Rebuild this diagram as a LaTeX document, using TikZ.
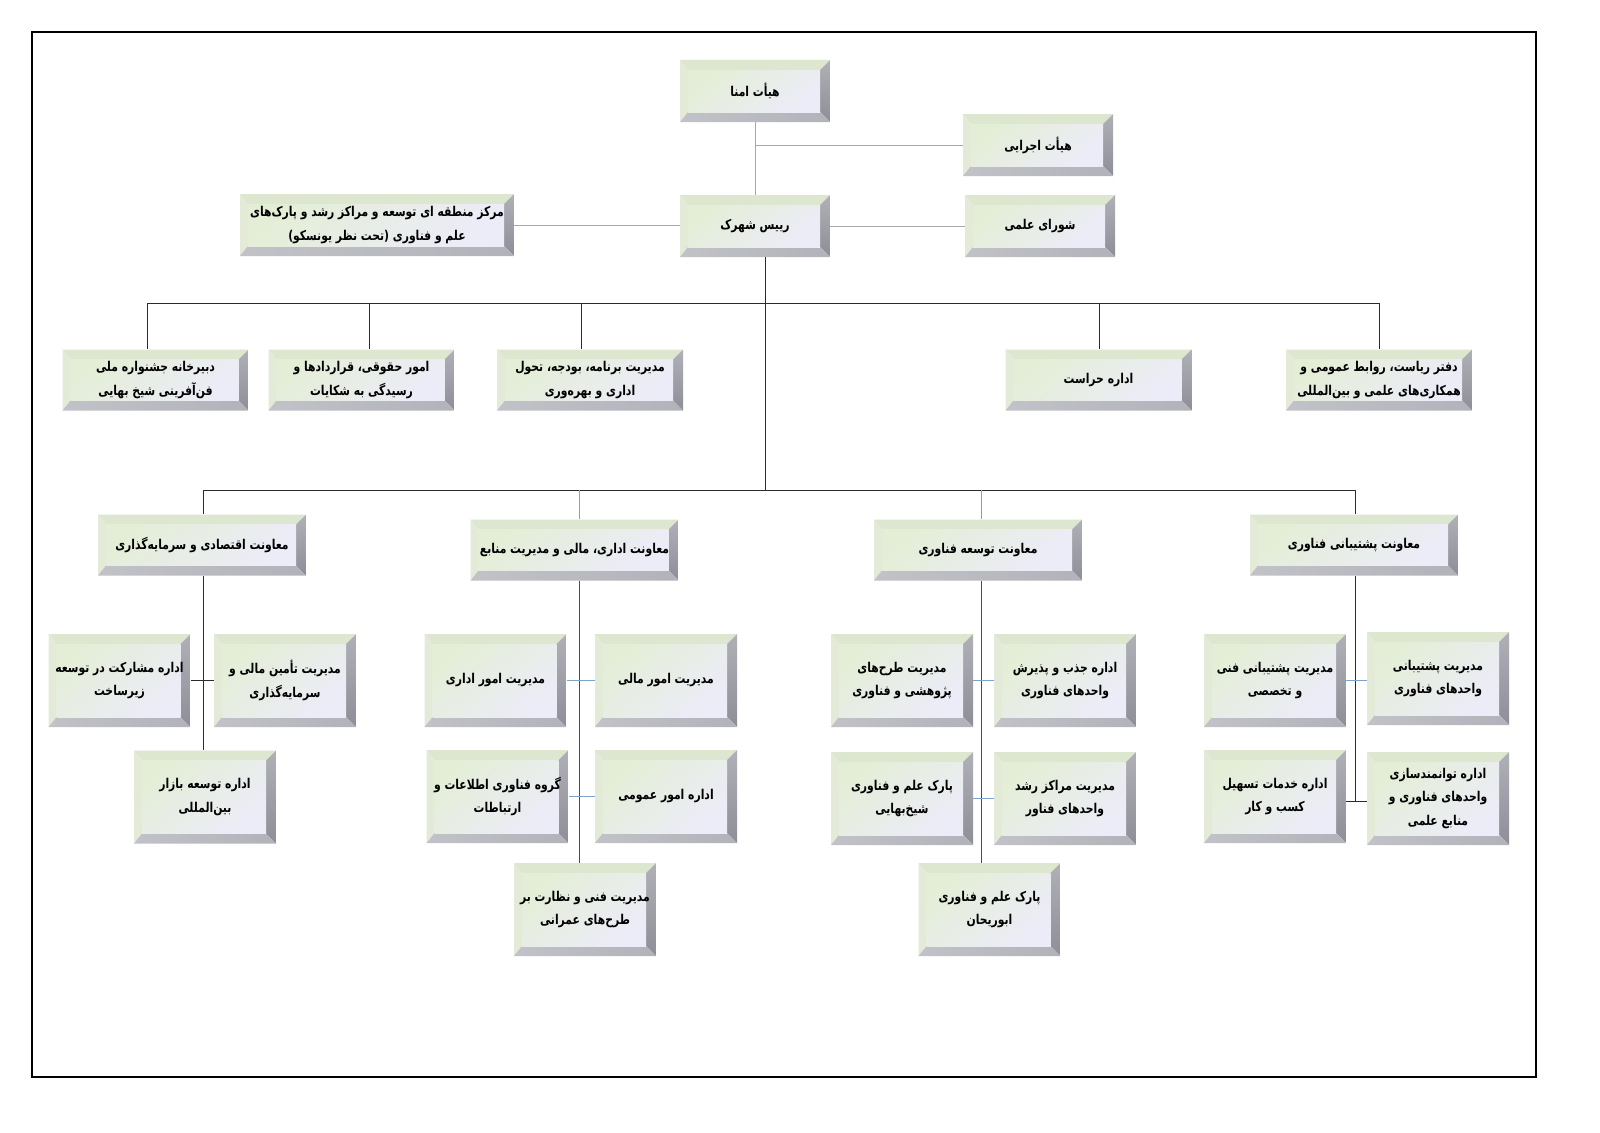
\documentclass[tikz,border=0pt]{standalone}
\usepackage{fontspec}
\newfontfamily\arabicfont[Script=Arabic,FakeStretch=0.8]{DejaVu Sans}
\TeXXeTstate=1
\usetikzlibrary{calc}
\newcommand\fa[1]{\beginR #1\endR}
\definecolor{bvtop}{HTML}{DDE7D0}
\definecolor{bvleft}{HTML}{E3EAD8}
\definecolor{bvright}{HTML}{8E8E98}
\definecolor{bvbot}{HTML}{B2B2BA}
\definecolor{facetop}{HTML}{E4EED7}
\definecolor{facebot}{HTML}{ECECF8}
\definecolor{lnblue}{HTML}{7DA3CC}
\definecolor{lngray}{HTML}{A8A8A8}
\definecolor{lndark}{HTML}{2B2B2B}
\newcommand\bevel{%
 \fill[bvtop] let \p1=(path picture bounding box.north west),\p2=(path picture bounding box.south east) in
   (\x1,\y1) -- (\x2,\y1) -- ({\x2-10pt},{\y1-10pt}) -- ({\x1+8pt},{\y1-10pt}) -- cycle;
 \fill[bvleft] let \p1=(path picture bounding box.north west),\p2=(path picture bounding box.south east) in
   (\x1,\y1) -- ({\x1+8pt},{\y1-10pt}) -- ({\x1+8pt},{\y2+10pt}) -- (\x1,\y2) -- cycle;
 \shade[top color=bvright!70!white, bottom color=bvright] let \p1=(path picture bounding box.north west),\p2=(path picture bounding box.south east) in
   (\x2,\y1) -- (\x2,\y2) -- ({\x2-10pt},{\y2+10pt}) -- ({\x2-10pt},{\y1-10pt}) -- cycle;
 \shade[left color=bvbot!80!white, right color=bvbot] let \p1=(path picture bounding box.north west),\p2=(path picture bounding box.south east) in
   (\x1,\y2) -- (\x2,\y2) -- ({\x2-10pt},{\y2+10pt}) -- ({\x1+8pt},{\y2+10pt}) -- cycle;
 \shade[top color=facetop, middle color=white, bottom color=facebot, shading angle=40]
   let \p1=(path picture bounding box.north west),\p2=(path picture bounding box.south east) in
   ({\x1+8pt},{\y1-10pt}) rectangle ({\x2-10pt},{\y2+10pt});
}
\tikzset{
 bx/.style={inner sep=0pt, align=center, text=black,
   font=\arabicfont\bfseries\fontsize{13.5}{23.5}\selectfont, path picture={\bevel}},
 wtop/.style={bx, minimum width=150pt, minimum height=62pt},
 wmark/.style={bx, minimum width=274pt, minimum height=62pt},
 wrow/.style={bx, minimum width=186pt, minimum height=61pt},
 wmoa/.style={bx, minimum width=208pt, minimum height=61pt},
 wsub/.style={bx, minimum width=142pt, minimum height=93pt},
 gl/.style={draw=lngray, line width=0.9pt},
 dl/.style={draw=lndark, line width=1pt},
 bl/.style={draw=lnblue, line width=1pt},
 ml/.style={draw=black!70, line width=1pt},
}
\begin{document}
\begin{tikzpicture}[x=1pt,y=-1pt]
\useasboundingbox (0,0) rectangle (1600,1132);
\fill[white] (0,0) rectangle (1600,1132);
\draw[black, line width=1.8pt] (32,32) rectangle (1536,1077);

% top level
\node[wtop] (amna) at (755,91) {\fa{هیأت امنا}};
\node[wtop] (ejraei) at (1038,145) {\fa{هیأت اجرایی}};
\node[wtop] (rayis) at (755,226) {\fa{رییس شهرک}};
\node[wtop] (shora) at (1040,226) {\fa{شورای علمی}};
\node[wmark] (markaz) at (377,225) {\fa{مرکز منطقه ای توسعه و مراکز رشد و پارک^^^^200cهای}\\\fa{علم و فناوری (تحت نظر یونسکو)}};

% row 2
\node[wrow] (dabir) at (155.5,380) {\fa{دبیرخانه جشنواره ملی}\\\fa{فن^^^^200cآفرینی شیخ بهایی}};
\node[wrow] (hoquq) at (361.5,380) {\fa{امور حقوقی، قراردادها و}\\\fa{رسیدگی به شکایات}};
\node[wrow] (barname) at (590,380) {\fa{مدیریت برنامه، بودجه، تحول}\\\fa{اداری و بهره^^^^200cوری}};
\node[wrow] (herasat) at (1098.5,380) {\fa{اداره حراست}};
\node[wrow] (daftar) at (1379,380) {\fa{دفتر ریاست، روابط عمومی و}\\\fa{همکاری^^^^200cهای علمی و بین^^^^200cالمللی}};

% row 3
\node[wmoa] (eqt) at (202,545) {\fa{معاونت اقتصادی و سرمایه^^^^200cگذاری}};
\node[wmoa] (edari) at (574.5,550) {\fa{معاونت اداری، مالی و مدیریت منابع}};
\node[wmoa] (tose) at (978,550) {\fa{معاونت توسعه فناوری}};
\node[wmoa] (posht) at (1354,545) {\fa{معاونت پشتیبانی فناوری}};

% group 1
\node[wsub] (gA1) at (119.5,680.5) {\fa{اداره مشارکت در توسعه}\\\fa{زیرساخت}};
\node[wsub] (gA2) at (285,680.5) {\fa{مدیریت تأمین مالی و}\\\fa{سرمایه^^^^200cگذاری}};
\node[wsub] (gA3) at (205,797) {\fa{اداره توسعه بازار}\\\fa{بین^^^^200cالمللی}};

% group 2
\node[wsub] (gB1) at (495.5,680.5) {\fa{مدیریت امور اداری}};
\node[wsub] (gB2) at (666,680.5) {\fa{مدیریت امور مالی}};
\node[wsub] (gB3) at (497.5,796.5) {\fa{گروه فناوری اطلاعات و}\\\fa{ارتباطات}};
\node[wsub] (gB4) at (666,796.5) {\fa{اداره امور عمومی}};
\node[wsub] (gB5) at (585,909.5) {\fa{مدیریت فنی و نظارت بر}\\\fa{طرح^^^^200cهای عمرانی}};

% group 3
\node[wsub] (gC1) at (902,680.5) {\fa{مدیریت طرح^^^^200cهای}\\\fa{پژوهشی و فناوری}};
\node[wsub] (gC2) at (1065,680.5) {\fa{اداره جذب و پذیرش}\\\fa{واحدهای فناوری}};
\node[wsub] (gC3) at (902,798.5) {\fa{پارک علم و فناوری}\\\fa{شیخ^^^^200cبهایی}};
\node[wsub] (gC4) at (1065,798.5) {\fa{مدیریت مراکز رشد}\\\fa{واحدهای فناور}};
\node[wsub] (gC5) at (989.5,909.5) {\fa{پارک علم و فناوری}\\\fa{ابوریحان}};

% group 4
\node[wsub] (gD1) at (1275,680.5) {\fa{مدیریت پشتیبانی فنی}\\\fa{و تخصصی}};
\node[wsub] (gD2) at (1438,678.5) {\fa{مدیریت پشتیبانی}\\\fa{واحدهای فناوری}};
\node[wsub] (gD3) at (1275,796.5) {\fa{اداره خدمات تسهیل}\\\fa{کسب و کار}};
\node[wsub] (gD4) at (1438,798.5) {\fa{اداره توانمندسازی}\\\fa{واحدهای فناوری و}\\\fa{منابع علمی}};

% connectors top
\draw[gl] (amna.south) -- (rayis.north);
\draw[gl] (amna.south |- ejraei.west) -- (ejraei.west);
\draw[gl] (markaz.east) -- (markaz.east -| rayis.west);
\draw[gl] (rayis.east) -- (shora.west);

% trunk and bars
\coordinate (tr) at (765,303);
\coordinate (tb) at (765,490);
\draw[dl] (rayis.south -| tr) -- (tb);
\coordinate (b2L) at (147,303);
\coordinate (b2a) at (369,303);
\coordinate (b2b) at (581,303);
\coordinate (b2c) at (1099,303);
\coordinate (b2R) at (1379,303);
\draw[dl] (b2L) -- (b2R);
\draw[dl] (b2L) -- (b2L |- dabir.north);
\draw[dl] (b2a) -- (b2a |- hoquq.north);
\draw[dl] (b2b) -- (b2b |- barname.north);
\draw[dl] (b2c) -- (b2c |- herasat.north);
\draw[dl] (b2R) -- (b2R |- daftar.north);

\coordinate (b3L) at (203,490);
\coordinate (b3a) at (579,490);
\coordinate (b3b) at (981,490);
\coordinate (b3R) at (1355,490);
\draw[dl] (b3L) -- (b3R);
\draw[dl] (b3L) -- (b3L |- eqt.north);
\draw[bl] (b3a) -- (b3a |- edari.north);
\draw[bl] (b3b) -- (b3b |- tose.north);
\draw[dl] (b3R) -- (b3R |- posht.north);

% group 1 lines
\draw[dl] (b3L |- eqt.south) -- (b3L |- gA3.north);
\draw[dl] (gA1.east) -- (gA2.west);
% group 2 lines
\draw[ml] (b3a |- edari.south) -- (b3a |- gB5.north);
\draw[bl] (gB1.east) -- (gB2.west);
\draw[bl] (gB3.east) -- (gB4.west);
% group 3 lines
\draw[ml] (b3b |- tose.south) -- (b3b |- gC5.north);
\draw[bl] (gC1.east) -- (gC2.west);
\draw[bl] (gC3.east) -- (gC4.west);
% group 4 lines
\coordinate (d4) at (1355,801);
\draw[dl] (b3R |- posht.south) -- (d4);
\draw[bl] (gD1.east) -- (gD1.east -| gD2.west);
\draw[dl] (gD3.east |- d4) -- (gD4.west |- d4);
\end{tikzpicture}
\end{document}
